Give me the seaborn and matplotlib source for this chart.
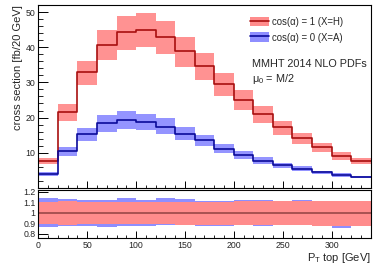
import matplotlib

matplotlib.use("Agg")

import numpy as np
import pandas as pd
import seaborn as sns
from matplotlib import pyplot as plt
from matplotlib.lines import Line2D
from matplotlib.patches import Patch
from matplotlib.ticker import MultipleLocator, FuncFormatter

# bin edges in pT top [GeV]
edges = [0, 20, 40, 60, 80, 100, 120, 140, 160, 180, 200,
         220, 240, 260, 280, 300, 320, 340]

# cos(alpha) = 1 (X=H), central values [fb/20 GeV]
xs_h = [7.7, 21.6, 32.9, 40.7, 44.2, 44.9, 42.9, 38.9, 34.7, 29.6,
        25.0, 21.0, 17.2, 14.1, 11.6, 9.1, 7.7]
# relative scale uncertainty (up / down)
h_up = [1.10, 1.11, 1.10, 1.10, 1.105, 1.105, 1.105, 1.105, 1.105, 1.105,
        1.11, 1.11, 1.11, 1.11, 1.11, 1.115, 1.115]
h_down = [0.89, 0.885, 0.89, 0.89, 0.89, 0.89, 0.888, 0.886, 0.885, 0.885,
          0.883, 0.882, 0.88, 0.88, 0.878, 0.876, 0.876]

# cos(alpha) = 0 (X=A)
xs_a = [3.9, 10.4, 15.2, 18.4, 19.3, 18.8, 17.4, 15.2, 13.5, 11.2,
        9.3, 7.7, 6.5, 5.5, 4.4, 3.75, 3.0]
a_up = [1.137, 1.13, 1.125, 1.12, 1.14, 1.12, 1.14, 1.13, 1.115, 1.115,
        1.118, 1.125, 1.11, 1.125, 1.11, 1.105, 1.105]
a_down = [0.861, 0.875, 0.877, 0.86, 0.87, 0.878, 0.885, 0.887, 0.877, 0.877,
          0.885, 0.87, 0.89, 0.893, 0.895, 0.855, 0.9]

red_fill, red_line = "#ff8c8c", "#a80f0f"
blue_fill, blue_line = "#8e8eff", "#0a0a9a"

sns.set_theme(style="ticks")
plt.rcParams["font.family"] = ["Liberation Sans", "DejaVu Sans"]
plt.rcParams["mathtext.fontset"] = "custom"
plt.rcParams["mathtext.rm"] = "Liberation Sans"
plt.rcParams["mathtext.it"] = "Liberation Sans"
plt.rcParams["axes.linewidth"] = 0.8
plt.rcParams["axes.edgecolor"] = "black"

edges_a = np.array(edges, dtype=float)
df = pd.DataFrame({
    "pt": np.concatenate([edges_a, edges_a]),
    "xs": np.concatenate([np.append(xs_h, xs_h[-1]), np.append(xs_a, xs_a[-1])]),
    "sample": ["H"] * len(edges) + ["A"] * len(edges),
})

fig = plt.figure(figsize=(3.82, 2.67), dpi=100)
ax = fig.add_axes([38.3 / 382, 1 - 187.9 / 267, 332.4 / 382, 182.9 / 267])
rax = fig.add_axes([38.3 / 382, 1 - 238 / 267, 332.4 / 382, 48 / 267])

# main panel: bands + central step lines
h = np.array(xs_h)
a = np.array(xs_a)
ax.stairs(h * np.array(h_up), edges_a, baseline=h * np.array(h_down),
          fill=True, color=red_fill, lw=0, alpha=0.95)
ax.stairs(a * np.array(a_up), edges_a, baseline=a * np.array(a_down),
          fill=True, color=blue_fill, lw=0, alpha=0.95)
sns.lineplot(data=df, x="pt", y="xs", hue="sample", ax=ax,
             palette={"H": red_line, "A": blue_line}, estimator=None,
             drawstyle="steps-post", linewidth=1.2, legend=False)

ax.set_xlim(0, 340)
ax.set_ylim(0, 52)
ax.set_xlabel("")
ax.set_ylabel("cross section [fb/20 GeV]", fontsize=8, loc="top", labelpad=2)
ax.xaxis.set_major_locator(MultipleLocator(50))
ax.xaxis.set_minor_locator(MultipleLocator(10))
ax.yaxis.set_major_locator(MultipleLocator(10))
ax.yaxis.set_minor_locator(MultipleLocator(2))
ax.yaxis.set_major_formatter(FuncFormatter(lambda v, p: "" if v == 0 else f"{v:g}"))
ax.tick_params(axis="x", labelbottom=False)
ax.tick_params(which="both", direction="in", labelsize=6.3, pad=2, color="black")
ax.tick_params(which="major", length=5, width=0.7)
ax.tick_params(which="minor", length=2.5, width=0.6)
ax.tick_params(axis="y", which="major", length=7)
ax.tick_params(axis="y", which="minor", length=3.5)

handles = [
    (Patch(facecolor=red_fill, edgecolor="none"), Line2D([], [], color=red_line, lw=1.2)),
    (Patch(facecolor=blue_fill, edgecolor="none"), Line2D([], [], color=blue_line, lw=1.2)),
]
ax.legend(handles, ["cos(α) = 1 (X=H)", "cos(α) = 0 (X=A)"],
          loc="upper left", bbox_to_anchor=(0.637, 0.937), frameon=False,
          fontsize=6.9, handlelength=2.0, handleheight=1.2,
          handletextpad=0.3, labelspacing=0.6, borderpad=0, borderaxespad=0)
ax.text(0.643, 0.678, "MMHT 2014 NLO PDFs", transform=ax.transAxes,
        fontsize=7.8, va="center", ha="left")
ax.text(0.643, 0.594, "μ$_0$ = M/2", transform=ax.transAxes,
        fontsize=7.8, va="center", ha="left")

# ratio panel: relative uncertainties
rax.stairs(a_up, edges_a, baseline=a_down, fill=True, color=blue_fill, lw=0)
rax.stairs(h_up, edges_a, baseline=h_down, fill=True, color=red_fill, lw=0)
rax.axhline(1.0, color="#9a4848", lw=1.2)
rax.set_xlim(0, 340)
rax.set_ylim(0.759, 1.216)
rax.xaxis.set_major_locator(MultipleLocator(50))
rax.xaxis.set_minor_locator(MultipleLocator(10))
rax.yaxis.set_major_locator(MultipleLocator(0.1))
rax.yaxis.set_major_formatter(FuncFormatter(lambda v, p: f"{v:g}"))
rax.tick_params(which="both", direction="in", labelsize=6.3, pad=2, color="black")
rax.tick_params(which="major", length=5, width=0.7)
rax.tick_params(which="minor", length=2.5, width=0.6)
rax.tick_params(axis="y", which="major", length=7)
rax.set_xlabel("P$_T$ top [GeV]", fontsize=8, loc="right", labelpad=1)

fig.savefig("out.png", dpi=100)
